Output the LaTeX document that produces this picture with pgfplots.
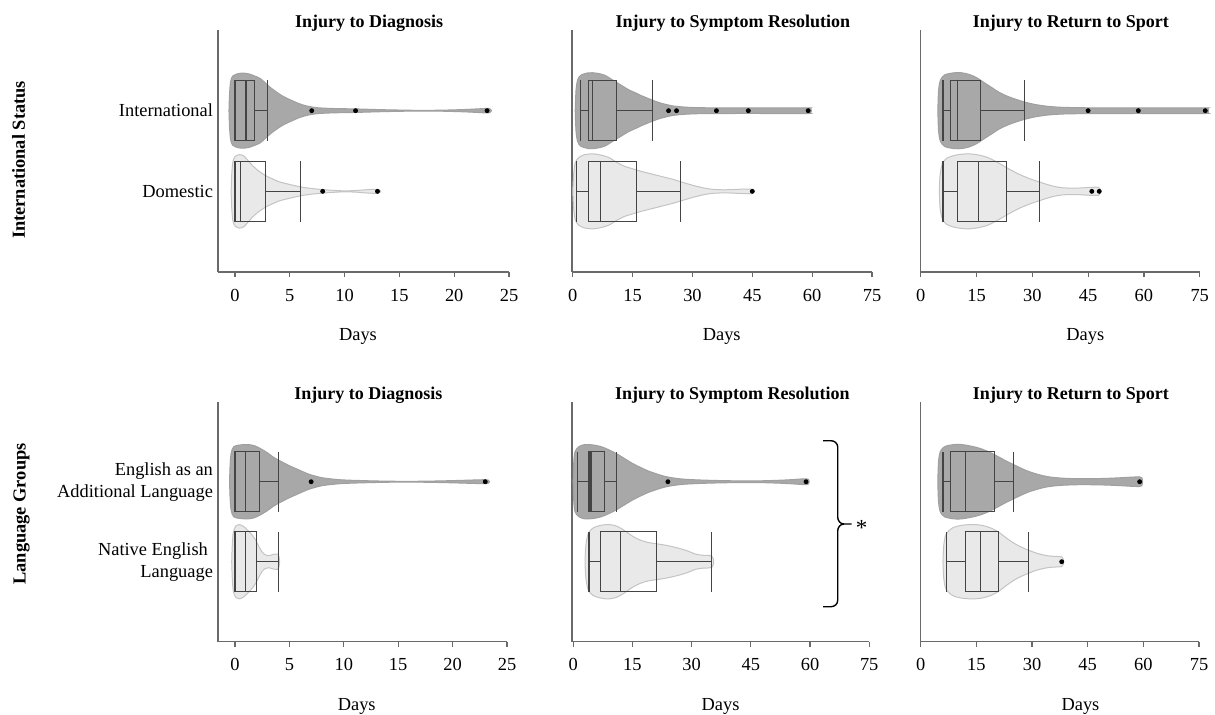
\documentclass[border=0pt]{standalone}
\usepackage{fontspec}
\setmainfont{Liberation Serif}
\usepackage{pgfplots}
\pgfplotsset{compat=1.18}
\usepackage{pgfplotstable}
\usepgfplotslibrary{statistics,fillbetween}
\definecolor{darkv}{HTML}{A8A8A8}
\definecolor{darkvl}{HTML}{A0A0A0}
\definecolor{lightv}{HTML}{E9E9E9}
\definecolor{lightvl}{HTML}{C4C4C4}
\definecolor{boxc}{HTML}{444444}
\definecolor{axc}{HTML}{6A6A6A}
\newcommand\fs{\fontsize{9.2}{11}\selectfont}
\newcommand\ft{\fontsize{9}{11}\selectfont\bfseries}

% ---------- violin outlines: x = days, w = half width (category units)
\pgfplotstableread{
x w
-0.55 0
-0.5 0.2
-0.4 0.36
-0.2 0.43
0.3 0.46
0.8 0.465
1.3 0.455
1.8 0.43
2.3 0.40
2.8 0.34
3.3 0.28
3.8 0.23
4.3 0.185
4.8 0.15
5.3 0.12
5.8 0.09
6.5 0.06
7.5 0.037
9 0.027
11 0.022
13 0.014
15 0.008
17 0.004
19 0.007
21 0.015
22.5 0.025
23.2 0.028
23.4 0
}\vIntDiag
\pgfplotstableread{
x w
-0.35 0
-0.3 0.2
-0.2 0.36
0 0.43
0.4 0.455
0.8 0.44
1.2 0.38
1.6 0.32
2.0 0.27
2.5 0.22
3 0.18
3.5 0.15
4 0.12
5 0.085
6 0.055
7 0.035
8 0.022
9 0.012
10 0.006
11 0.01
12 0.02
12.9 0.025
13.2 0.015
13.3 0
}\vDomDiag
\pgfplotstableread{
x w
0.6 0
0.8 0.25
1.2 0.38
2 0.44
4 0.47
6 0.465
8 0.44
10 0.38
11 0.35
12 0.32
14 0.26
16 0.215
17 0.19
18 0.17
20 0.13
22 0.095
25 0.06
28 0.045
32 0.037
40 0.035
50 0.035
59 0.035
59.6 0.03
59.8 0
}\vIntSymp
\pgfplotstableread{
x w
0 0
0.2 0.2
0.6 0.35
1.5 0.42
3 0.455
5 0.465
7 0.45
9 0.42
11 0.36
13 0.31
15 0.28
17 0.25
19 0.225
21 0.2
23 0.175
25 0.15
27 0.12
29 0.09
31 0.063
33 0.04
35 0.025
37 0.02
39 0.02
41 0.024
43 0.028
44.8 0.028
45.2 0.015
45.4 0
}\vDomSymp
\pgfplotstableread{
x w
4.6 0
4.8 0.25
5.3 0.38
6.5 0.445
9 0.47
11 0.47
13 0.45
15 0.41
17 0.35
19 0.29
21 0.23
23 0.185
25 0.15
27 0.12
29 0.095
31 0.075
34 0.055
38 0.042
45 0.036
55 0.035
65 0.035
76.5 0.035
77.2 0.03
77.4 0
}\vIntRTS
\pgfplotstableread{
x w
5 0
5.2 0.2
5.8 0.34
7 0.41
9.5 0.45
12.5 0.465
15 0.455
18 0.42
21 0.35
24 0.27
27 0.2
30 0.145
32 0.115
34 0.085
36 0.06
38 0.045
40 0.04
42 0.04
44 0.045
46 0.05
47.8 0.05
48.2 0.03
48.4 0
}\vDomRTS
\pgfplotstableread{
x w
-0.5 0
-0.45 0.2
-0.35 0.36
-0.1 0.44
0.5 0.46
1.2 0.465
1.8 0.45
2.4 0.41
3 0.36
3.5 0.31
4 0.27
4.5 0.235
5 0.2
5.5 0.17
6 0.14
6.5 0.11
7 0.085
8 0.05
9 0.033
10 0.022
12 0.013
14 0.007
16 0.005
18 0.008
20 0.014
22 0.022
23 0.025
23.3 0.018
23.4 0
}\vEalDiag
\pgfplotstableread{
x w
-0.3 0
-0.25 0.2
-0.15 0.37
0.1 0.45
0.4 0.465
0.8 0.44
1.2 0.39
1.6 0.33
1.9 0.27
2.2 0.19
2.5 0.12
2.8 0.085
3.1 0.075
3.5 0.09
3.9 0.095
4.05 0.06
4.1 0
}\vNelDiag
\pgfplotstableread{
x w
0 0
0.15 0.25
0.5 0.38
1.5 0.44
3 0.465
5 0.46
7 0.44
9 0.4
11 0.35
13 0.29
15 0.23
17 0.18
19 0.135
21 0.1
23 0.07
25 0.05
28 0.032
32 0.022
36 0.016
40 0.012
44 0.01
48 0.012
52 0.018
55 0.025
57 0.032
59 0.037
59.6 0.03
59.8 0
}\vEalSymp
\pgfplotstableread{
x w
3 0
3.2 0.2
3.8 0.35
5 0.42
7 0.455
9 0.465
11 0.445
13 0.39
15 0.32
17 0.27
19 0.24
21 0.225
23 0.21
25 0.19
27 0.165
29 0.135
31 0.095
33 0.08
34.5 0.078
35.2 0.065
35.5 0.035
35.6 0
}\vNelSymp
\pgfplotstableread{
x w
4.6 0
4.8 0.25
5.3 0.38
6.5 0.44
9 0.465
11 0.465
13 0.45
15 0.43
17 0.4
19 0.36
21 0.31
23 0.26
25 0.215
27 0.17
29 0.13
31 0.1
33 0.075
35 0.058
38 0.045
42 0.038
46 0.038
50 0.042
54 0.05
57 0.058
59 0.06
59.6 0.05
59.8 0
}\vEalRTS
\pgfplotstableread{
x w
6 0
6.2 0.2
6.8 0.34
8.5 0.42
11 0.455
14 0.465
16.5 0.455
19 0.42
21 0.37
23 0.3
25 0.235
27 0.185
29 0.145
31 0.11
33 0.085
35 0.07
37 0.065
38 0.06
38.4 0.035
38.5 0
}\vNelRTS

% violin: #1 table, #2 position, #3 fill, #4 outline
\newcommand\violin[4]{%
  \addplot[draw=none, name path=vu#2, smooth] table[x=x, y expr=#2+\thisrow{w}] {#1};
  \addplot[draw=none, name path=vl#2, smooth] table[x=x, y expr=#2-\thisrow{w}] {#1};
  \addplot[fill=#3, draw=#4, line width=0.5pt] fill between[of=vu#2 and vl#2];
}
% box: position, lower whisker, q1, median, q3, upper whisker
\newcommand\bx[6]{%
  \addplot[boxplot prepared={draw position=#1, lower whisker=#2, lower quartile=#3,
    median=#4, upper quartile=#5, upper whisker=#6, box extend=0.75, whisker extend=0.75},
    draw=boxc, line width=0.55pt, solid] coordinates {};
}
\pgfplotsset{
  panel/.style={
    scale only axis, height=121pt, clip=false,
    axis x line*=bottom, axis y line*=left,
    ymin=0, ymax=3, ytick={1,2},
    tick align=outside, major tick length=2.5pt,
    ytick style={draw=none},
    xtick style={draw=axc, line width=0.6pt},
    axis line style={draw=axc, line width=0.6pt, -},
    tick label style={font=\fs},
    label style={font=\fs},
    /pgf/number format/assume math mode=true,
    xlabel={Days},
    yticklabel style={align=right, xshift=3.5pt},
    title style={font=\ft, anchor=base, yshift=-4.65pt},
    xticklabel style={anchor=base, yshift=-12pt},
  },
  outl/.style={only marks, mark=*, mark size=1pt, black},
}

\begin{document}
\begin{tikzpicture}
% ================= Row 1: International status
\begin{axis}[panel, at={(109pt,-136pt)}, anchor=south west, width=145.5pt,
  xmin=-1.55, xmax=25, xtick={0,5,10,15,20,25},
  yticklabels={Domestic, International},
  title={Injury to Diagnosis}, title style={at={(0.519,1)}},
  xlabel style={at={(axis description cs:0.481,0)}, anchor=base, yshift=-34.3pt}]
  \violin{\vIntDiag}{2}{darkv}{darkvl}
  \violin{\vDomDiag}{1}{lightv}{lightvl}
  \bx{2}{0}{0}{1}{1.75}{3}
  \bx{1}{0}{0}{0.5}{2.75}{6}
  \addplot[outl] coordinates {(7,2) (11,2) (23,2)};
  \addplot[outl] coordinates {(8,1) (13,1)};
\end{axis}
\begin{axis}[panel, at={(286pt,-136pt)}, anchor=south west, width=150pt,
  xmin=-0.2, xmax=75, xtick={0,15,30,45,60,75}, yticklabels={},
  title={Injury to Symptom Resolution}, title style={at={(0.536,1)}},
  xlabel style={at={(axis description cs:0.499,0)}, anchor=base, yshift=-34.3pt}]
  \violin{\vIntSymp}{2}{darkv}{darkvl}
  \violin{\vDomSymp}{1}{lightv}{lightvl}
  \bx{2}{2}{4}{5}{11}{20}
  \bx{1}{1}{4}{7}{16}{27}
  \addplot[outl] coordinates {(24,2) (26,2) (36,2) (44,2) (59,2)};
  \addplot[outl] coordinates {(45,1)};
\end{axis}
\begin{axis}[panel, at={(460.35pt,-136pt)}, anchor=south west, width=139.5pt,
  xmin=0, xmax=75, xtick={0,15,30,45,60,75}, yticklabels={},
  title={Injury to Return to Sport}, title style={at={(0.538,1)}},
  xlabel style={at={(axis description cs:0.59,0)}, anchor=base, yshift=-34.3pt}]
  \violin{\vIntRTS}{2}{darkv}{darkvl}
  \violin{\vDomRTS}{1}{lightv}{lightvl}
  \bx{2}{6}{8}{10}{16}{28}
  \bx{1}{6}{10}{15.5}{23}{32}
  \addplot[outl] coordinates {(45,2) (58.5,2) (76.5,2)};
  \addplot[outl] coordinates {(46,1) (48,1)};
\end{axis}
% ================= Row 2: Language groups
\begin{axis}[panel, at={(109pt,-320.85pt)}, anchor=south west, width=144.5pt, height=120pt,
  xmin=-1.56, xmax=25, xtick={0,5,10,15,20,25},
  yticklabels={{Native English\hspace*{2.5pt}\\Language}, {English as an\\Additional Language}},
  title={Injury to Diagnosis}, title style={at={(0.52,1)}},
  xlabel style={at={(axis description cs:0.48,0)}, anchor=base, yshift=-34.3pt}]
  \violin{\vEalDiag}{2}{darkv}{darkvl}
  \violin{\vNelDiag}{1}{lightv}{lightvl}
  \bx{2}{0}{0}{1}{2.25}{4}
  \bx{1}{0}{0}{1}{2}{4}
  \addplot[outl] coordinates {(7,2) (23,2)};
\end{axis}
\begin{axis}[panel, at={(286pt,-320.85pt)}, anchor=south west, width=148.6pt, height=120pt,
  xmin=-0.3, xmax=75, xtick={0,15,30,45,60,75}, yticklabels={},
  title={Injury to Symptom Resolution}, title style={at={(0.54,1)}},
  xlabel style={at={(axis description cs:0.50,0)}, anchor=base, yshift=-34.3pt}]
  \violin{\vEalSymp}{2}{darkv}{darkvl}
  \violin{\vNelSymp}{1}{lightv}{lightvl}
  \bx{2}{1}{4}{4.5}{8}{11}
  \bx{1}{4}{7}{12}{21}{35}
  \addplot[outl] coordinates {(24,2) (59,2)};
\end{axis}
\begin{axis}[panel, at={(460.35pt,-320.85pt)}, anchor=south west, width=139.15pt, height=120pt,
  xmin=0, xmax=75, xtick={0,15,30,45,60,75}, yticklabels={},
  title={Injury to Return to Sport}, title style={at={(0.54,1)}},
  xlabel style={at={(axis description cs:0.574,0)}, anchor=base, yshift=-34.3pt}]
  \violin{\vEalRTS}{2}{darkv}{darkvl}
  \violin{\vNelRTS}{1}{lightv}{lightvl}
  \bx{2}{6}{8}{12}{20}{25}
  \bx{1}{7}{12}{16}{21}{29}
  \addplot[outl] coordinates {(59,2)};
  \addplot[outl] coordinates {(38,1)};
\end{axis}
% ================= row labels
\node[rotate=90, anchor=base, font=\fontsize{9.2}{11}\selectfont\bfseries] at (12.5pt,-80pt) {International Status};
\node[rotate=90, anchor=base, font=\fontsize{9.2}{11}\selectfont\bfseries] at (12.8pt,-257pt) {Language Groups};
% ================= significance bracket
\draw[line width=0.7pt, black] (411.5pt,-220.35pt) -- (415.5pt,-220.35pt) to[out=0,in=90] (418.85pt,-223.5pt)
  -- (418.85pt,-258.5pt) to[out=-90,in=180] (422pt,-262pt) -- (425.85pt,-262pt);
\draw[line width=0.7pt, black] (422pt,-262pt) to[out=180,in=90] (418.85pt,-265.5pt)
  -- (418.85pt,-300.2pt) to[out=-90,in=0] (415.5pt,-303.35pt) -- (411.5pt,-303.35pt);
\node[anchor=base, font=\fontsize{11.5}{12}\selectfont, inner sep=0pt] at (430.85pt,-267.9pt) {*};
\pgfresetboundingbox
\path[use as bounding box] (0pt,0pt) rectangle (607.5pt,-357pt);
\end{tikzpicture}
\end{document}
